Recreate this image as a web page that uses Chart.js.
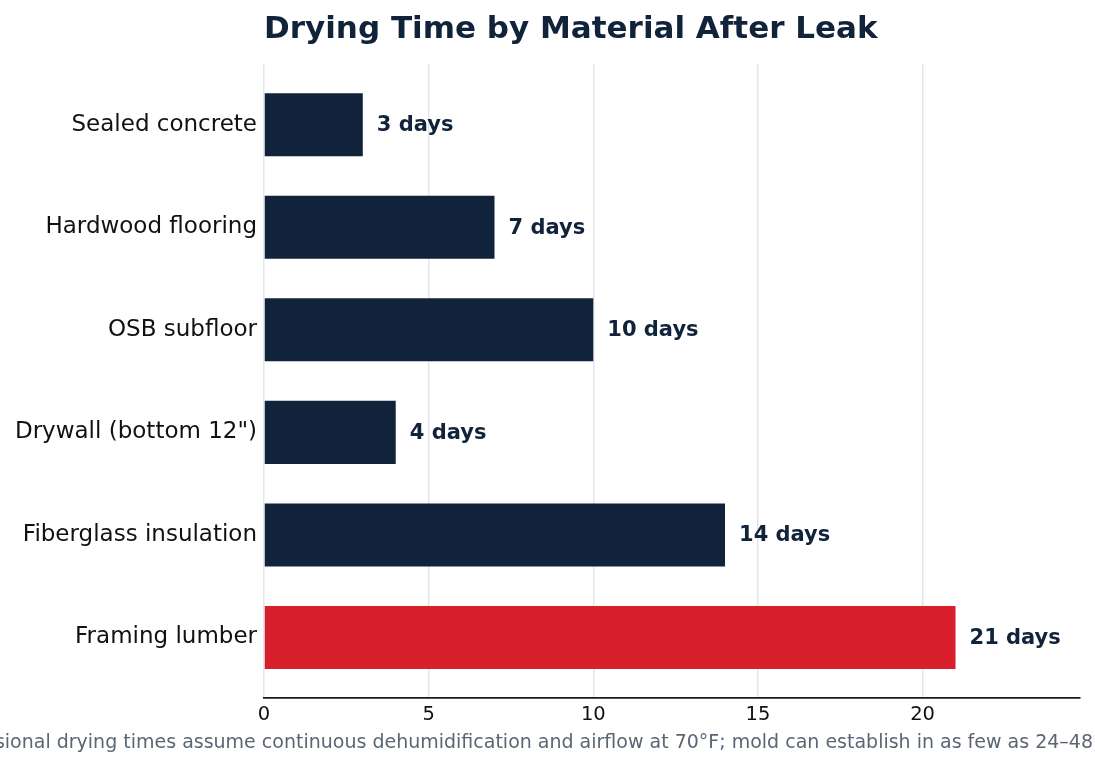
<!DOCTYPE html>
<html lang="en">
<head>
  <meta charset="UTF-8">
  <title>Drying Time by Material After Leak</title>
  <style>
    html, body { margin: 0; padding: 0; background: #fff; }
    canvas { display: block; }
  </style>
  <script src="https://cdn.jsdelivr.net/npm/chart.js"></script>
</head>
<body>
  <canvas id="dryChart" width="1095" height="768"
          aria-label="Horizontal bar chart: drying time by material after a leak"></canvas>

  <script>
    // data
    const materials = ["Sealed concrete", "Hardwood flooring", "OSB subfloor",
                       "Drywall (bottom 12\")", "Fiberglass insulation", "Framing lumber"];
    const dryDays = [3, 7, 10, 4, 14, 21];
    const xTicks = [0, 5, 10, 15, 20];
    const footnote = "Professional drying times assume continuous dehumidification and airflow at 70°F; mold can establish in as few as 24–48 hours.";

    const navy = "#10233a";
    const red = "#d8202c";

    Chart.defaults.font.family = "'DejaVu Sans', sans-serif";

    // "21 days" etc. next to each bar
    const valueLabels = {
      id: "valueLabels",
      afterDatasetsDraw(chart) {
        const ctx = chart.ctx;
        const meta = chart.getDatasetMeta(0);
        ctx.save();
        ctx.font = "bold 21px 'DejaVu Sans'";
        ctx.fillStyle = navy;
        ctx.textBaseline = "middle";
        meta.data.forEach((bar, i) => {
          ctx.fillText(dryDays[i] + " days", bar.x + 14, bar.y + 1);
        });
        ctx.restore();
      }
    };

    // grey note under the axis, centred on the canvas (runs off both edges)
    const noteText = {
      id: "noteText",
      afterDraw(chart) {
        const ctx = chart.ctx;
        ctx.save();
        ctx.font = "19px 'DejaVu Sans'";
        ctx.fillStyle = "#5b6675";
        ctx.textAlign = "center";
        ctx.textBaseline = "middle";
        ctx.fillText(footnote, chart.width / 2, 743);
        ctx.restore();
      }
    };

    new Chart("dryChart", {
      type: "bar",
      data: {
        datasets: [{
          data: dryDays.map((d, i) => ({ x: d, y: i })),
          backgroundColor: dryDays.map((d, i) => i === dryDays.length - 1 ? red : navy),
          barPercentage: 0.615,
          categoryPercentage: 1
        }]
      },
      options: {
        indexAxis: "y",
        responsive: false,
        animation: false,
        layout: { padding: { top: 0, right: 15, bottom: 0, left: 0 } },
        plugins: {
          legend: { display: false },
          tooltip: { enabled: false },
          title: {
            display: true,
            text: "Drying Time by Material After Leak",
            align: "start",
            fullSize: false,
            color: navy,
            font: { size: 31, weight: "bold" },
            padding: { top: 11, bottom: 16 }
          }
        },
        scales: {
          x: {
            type: "linear",
            min: 0,
            max: 24.78,
            grid: { color: "#e3e7ed", lineWidth: 1.5, drawTicks: false },
            border: { display: true, color: "#1a1a1a", width: 1.8 },
            ticks: { color: "#111", font: { size: 19.5 }, padding: 5 },
            afterBuildTicks: s => { s.ticks = xTicks.map(v => ({ value: v })); },
            afterFit: s => { s.height = 70; }
          },
          y: {
            type: "linear",
            reverse: true,
            offset: false,
            min: -0.59,
            max: 5.59,
            grid: { display: false, drawTicks: false },
            border: { display: false },
            ticks: {
              color: "#111",
              font: { size: 23 },
              padding: 7,
              callback: v => materials[v]
            },
            afterBuildTicks: s => { s.ticks = materials.map((m, i) => ({ value: i })); },
            afterFit: s => { s.width = 264; }
          }
        }
      },
      plugins: [valueLabels, noteText]
    });
  </script>
</body>
</html>
